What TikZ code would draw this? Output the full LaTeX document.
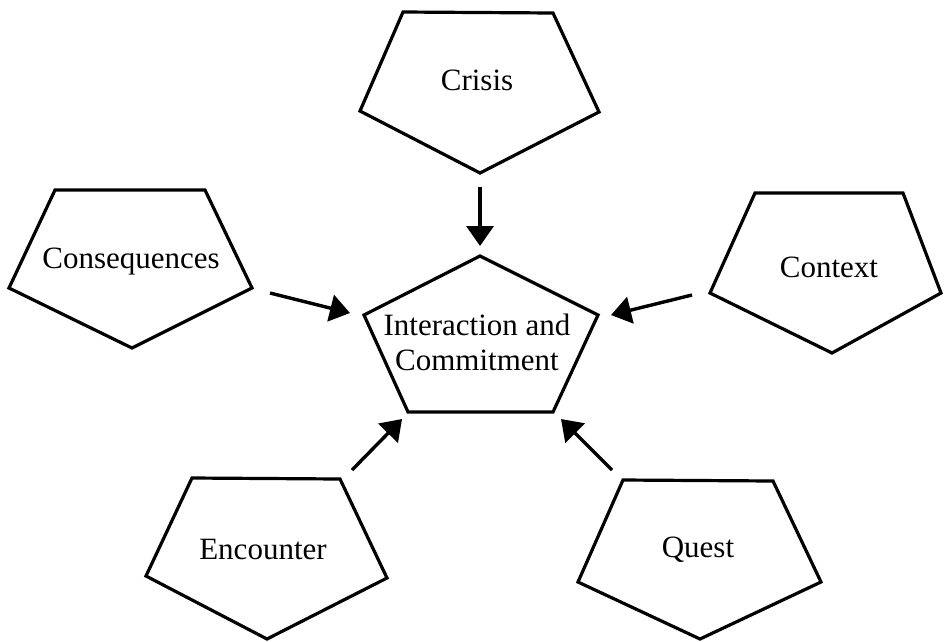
\documentclass[tikz,border=0pt]{standalone}
\usepackage{fontspec}
\setmainfont{Liberation Serif}
\usetikzlibrary{arrows.meta}
\begin{document}
\begin{tikzpicture}[x=1pt,y=-1pt,
  pent/.style={draw=black,line width=3.2pt,line join=miter},
  lbl/.style={font=\fontsize{31}{37}\selectfont,inner sep=0pt,align=center},
  arr/.style={line width=3.4pt,-{Triangle[length=20pt,width=27pt]}}]
\useasboundingbox (0,0) rectangle (944,641);
% pentagons
\draw[pent] (403,12) -- (553,13) -- (599,112) -- (480,173) -- (360,111) -- cycle;
\draw[pent] (55,190) -- (205,190) -- (252,288) -- (132,348) -- (9,288) -- cycle;
\draw[pent] (755,193) -- (903,193) -- (941,293) -- (832,353) -- (710,293) -- cycle;
\draw[pent] (480,256) -- (598,315) -- (553,412) -- (408,412) -- (364,315) -- cycle;
\draw[pent] (192,478) -- (340,479) -- (387,578) -- (267,639) -- (146,576) -- cycle;
\draw[pent] (623,480) -- (773,481) -- (821,582) -- (700,639) -- (578,582) -- cycle;
% labels
\node[lbl] (crisis) at (477,80) {Crisis};
\node[lbl] (cons) at (131,262) {Consequences};
\node[lbl] (ctx) at (829,267) {Context};
\node[lbl] (center) at (477,342) {Interaction and\\[-2pt]Commitment};
\node[lbl] (enc) at (263,549) {Encounter};
\node[lbl] (quest) at (698,550) {Quest};
% arrow endpoints
\coordinate (a1s) at (480,187); \coordinate (a1e) at (480,246);
\coordinate (a2s) at (270,293); \coordinate (a2e) at (350,313);
\coordinate (a3s) at (692,295); \coordinate (a3e) at (611,315);
\coordinate (a4s) at (352,470); \coordinate (a4e) at (402,419);
\coordinate (a5s) at (612,470); \coordinate (a5e) at (561,419);
\draw[arr] (a1s) -- (a1e);
\draw[arr] (a2s) -- (a2e);
\draw[arr] (a3s) -- (a3e);
\draw[arr] (a4s) -- (a4e);
\draw[arr] (a5s) -- (a5e);
\end{tikzpicture}
\end{document}
